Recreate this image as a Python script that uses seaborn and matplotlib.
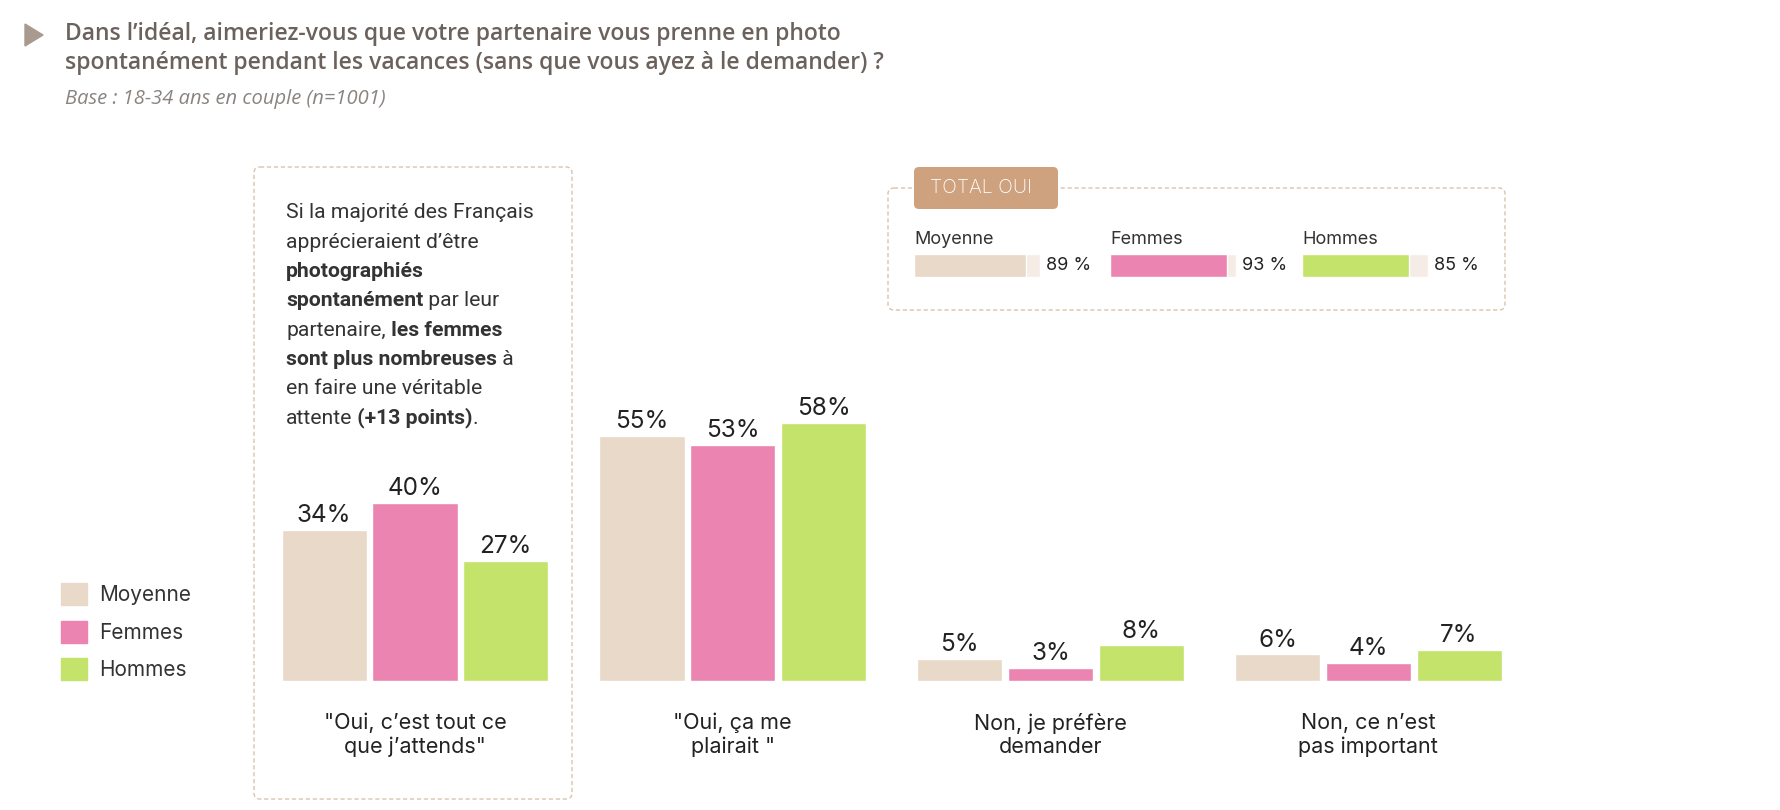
import numpy as np
import pandas as pd
import matplotlib
matplotlib.use("Agg")
import matplotlib.pyplot as plt
import seaborn as sns
from matplotlib.patches import FancyBboxPatch, Polygon, Patch

# Data
categories = ['"Oui, c’est tout ce\nque j’attends"', '"Oui, ça me\nplairait "',
              'Non, je préfère\ndemander', 'Non, ce n’est\npas important']
groups = ["Moyenne", "Femmes", "Hommes"]
moyenne = [34, 55, 5, 6]
femmes = [40, 53, 3, 4]
hommes = [27, 58, 8, 7]
total_oui = [89, 93, 85]

colors = {"Moyenne": "#e9d9c9", "Femmes": "#ec84b2", "Hommes": "#c3e36a"}
track = "#f4ece5"
border = "#dcc2ad"
title_col = "#6b625d"
text_col = "#222222"

df = pd.DataFrame({
    "cat": categories * 3,
    "grp": [g for g in groups for _ in categories],
    "val": moyenne + femmes + hommes,
})

sns.set_theme(style="white")
plt.rcParams["font.family"] = ["Inter", "DejaVu Sans"]

W, H = 1780, 810
fig = plt.figure(figsize=(W / 100, H / 100), dpi=100)
fig.patch.set_facecolor("white")

def fx(px):
    return px / W

def fy(py):
    return 1 - py / H

# decoration layer in pixel coordinates
deco = fig.add_axes([0, 0, 1, 1], zorder=0)
deco.set_xlim(0, W)
deco.set_ylim(H, 0)
deco.axis("off")

deco.add_patch(Polygon([(25, 24), (25, 46), (43, 35)], closed=True, color="#a89a8e"))
deco.text(65, 34, "Dans l’idéal, aimeriez-vous que votre partenaire vous prenne en photo",
          fontsize=16.5, color=title_col, fontweight="semibold", va="center",
          family=["Open Sans", "DejaVu Sans"])
deco.text(65, 63, "spontanément pendant les vacances (sans que vous ayez à le demander) ?",
          fontsize=16.5, color=title_col, fontweight="semibold", va="center",
          family=["Open Sans", "DejaVu Sans"])
deco.text(65, 99, "Base : 18-34 ans en couple (n=1001)", fontsize=14.5, color="#8a8480",
          style="italic", va="center", family=["Open Sans", "DejaVu Sans"])

# left comment box
deco.add_patch(FancyBboxPatch((254, 167), 318, 632, boxstyle="round,pad=0,rounding_size=6",
                              fill=False, ec=border, lw=1, ls=(0, (3, 2))))
box_lines = [
    [("Si la majorité des Français", False)],
    [("apprécieraient d’être", False)],
    [("photographiés", True)],
    [("spontanément", True), (" par leur", False)],
    [("partenaire,", False), (" les femmes", True)],
    [("sont plus nombreuses", True), (" à", False)],
    [("en faire une véritable", False)],
    [("attente", False), (" (+13 points)", True), (".", False)],
]
for i, runs in enumerate(box_lines):
    y = 213 + i * 29.3
    prev = None
    for s, bold in runs:
        kw = dict(fontsize=15.2, color="#333333", family=["Roboto", "DejaVu Sans"],
                  fontweight="bold" if bold else "normal")
        if prev is None:
            prev = deco.text(286, y, s, va="center", ha="left", **kw)
        else:
            prev = deco.annotate(s, xy=(1, 0), xycoords=prev, va="bottom", ha="left", **kw)

# TOTAL OUI box
deco.add_patch(FancyBboxPatch((888, 188), 617, 122, boxstyle="round,pad=0,rounding_size=6",
                              fill=False, ec=border, lw=1, ls=(0, (3, 2))))
deco.add_patch(FancyBboxPatch((914, 167), 144, 42, boxstyle="round,pad=0,rounding_size=5",
                              fc="#cfa27f", ec="none"))
deco.text(930, 188, "TOTAL OUI", color="white", fontsize=14, va="center", ha="left",
          fontweight="light")

# main bar chart
ax = fig.add_axes([fx(224.3), 1 - 681 / H, fx(1334.7), 445 / H], zorder=1)
ax.patch.set_alpha(0)
sns.barplot(data=df, x="cat", y="val", hue="grp", palette=colors, width=0.857, gap=0.0625,
            saturation=1, legend=False, ax=ax)
ax.set_xlim(-0.6, 3.6)
ax.set_ylim(0, 100)
for cont in ax.containers:
    ax.bar_label(cont, fmt="{:.0f}%", padding=2, fontsize=17.5, color=text_col)
ax.set_xlabel("")
ax.set_ylabel("")
ax.set_yticks([])
ax.tick_params(axis="x", length=0, pad=23, labelsize=15.5, labelcolor=text_col)
sns.despine(ax=ax, left=True, bottom=True)

# legend
handles = [Patch(color=colors[g], label=g) for g in groups]
fig.legend(handles=handles, loc="upper left", bbox_to_anchor=(fx(61), fy(583)),
           frameon=False, fontsize=15, handlelength=1.25, handleheight=1.25,
           labelspacing=0.75, handletextpad=0.6, borderpad=0, borderaxespad=0,
           labelcolor="#333333")

# mini total bars
mini_x = [914, 1110, 1302]
for g, v, x0 in zip(groups, total_oui, mini_x):
    m = fig.add_axes([fx(x0), fy(277), fx(126), 23 / H], zorder=1)
    sns.barplot(x=[100], y=[g], color=track, width=1, saturation=1, ax=m)
    sns.barplot(x=[v], y=[g], color=colors[g], width=1, saturation=1, ax=m)
    m.set_xlim(0, 100)
    m.set_ylim(0.5, -0.5)
    m.axis("off")
    m.text(0, 1.25, g, transform=m.transAxes, fontsize=13, color="#333333",
           va="bottom", ha="left")
    m.text(1.05, 0.5, f"{v} %", transform=m.transAxes, fontsize=13, color="#222222",
           va="center", ha="left")

fig.savefig("out.png", dpi=100, facecolor="white")
